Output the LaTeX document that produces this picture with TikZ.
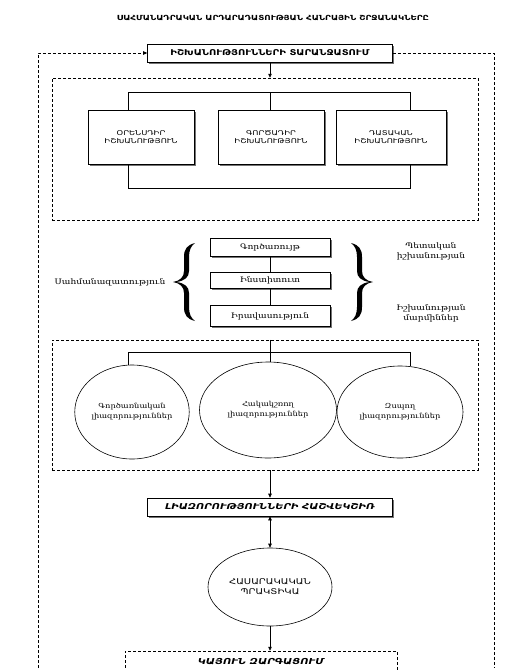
\documentclass[tikz,border=0pt]{standalone}
\usepackage{fontspec}
\setmainfont{DejaVu Sans}
\newfontfamily\wcaps[FakeStretch=1.25]{DejaVu Sans}
\newfontfamily\wser[FakeStretch=1.2]{DejaVu Serif}
\usetikzlibrary{arrows.meta,shapes.geometric,shadows}
\newcommand\bracefill{%
  (22,-39) .. controls (14,-37) and (11,-33) .. (11,-25) -- (11,-11)
  .. controls (11,-5) and (7,-1) .. (0,0)
  .. controls (7,1) and (11,5) .. (11,11) -- (11,25)
  .. controls (11,33) and (14,37) .. (22,39)
  .. controls (18,36) and (16,32) .. (16,25) -- (16,11)
  .. controls (16,5) and (12,1) .. (3,0)
  .. controls (12,-1) and (16,-5) .. (16,-11) -- (16,-25)
  .. controls (16,-32) and (18,-36) .. (22,-39) -- cycle}
\begin{document}
\begin{tikzpicture}[x=1pt,y=-1pt,
  boxs/.style={draw, fill=white, line width=0.6pt, drop shadow={shadow xshift=1.8pt,shadow yshift=-1.8pt,fill=black!55,opacity=1}, inner sep=1pt, align=center},
  dbox/.style={draw, dash pattern=on 3pt off 2pt, line width=0.5pt, inner sep=0pt},
  ell/.style={draw, ellipse, line width=0.6pt, align=center, inner sep=0pt},
  arr/.style={-{Triangle[length=4pt,width=3.5pt]}, line width=0.6pt},
  darr/.style={{Triangle[length=4pt,width=3.5pt]}-{Triangle[length=4pt,width=3.5pt]}, line width=0.6pt},
  ln/.style={line width=0.6pt},
  dln/.style={dash pattern=on 3pt off 2pt, line width=0.5pt},
  capf/.style={font=\wcaps\fontsize{6.7}{8.5}\selectfont},
  capb/.style={font=\wcaps\bfseries\fontsize{7}{8}\selectfont},
  capi/.style={font=\wcaps\bfseries\itshape\fontsize{8.1}{9}\selectfont},
  serf/.style={font=\wser\fontsize{7.6}{10}\selectfont, align=center},
  sere/.style={font=\wser\fontsize{6.9}{10}\selectfont, align=center}]
\useasboundingbox (0,0) rectangle (514,670);
% title
\node[capb] (title) at (273,18) {ՍԱՀՄԱՆԱԴՐԱԿԱՆ ԱՐԴԱՐԱԴԱՏՈՒԹՅԱՆ ՀԱՆՐԱՅԻՆ ՇՐՋԱՆԱԿՆԵՐԸ};
% top box
\node[boxs, capb, font=\wcaps\bfseries\fontsize{8}{9}\selectfont, minimum width=245pt, minimum height=18pt] (top) at (270,53) {ԻՇԽԱՆՈՒԹՅՈՒՆՆԵՐԻ ՏԱՐԱՆՋԱՏՈՒՄ};
% dashed rect 1
\node[dbox, minimum width=426pt, minimum height=142pt] (r1) at (265,149) {};
\draw[arr] (top.south) -- (top.south |- r1.north);
% three power boxes
\node[boxs, capf, minimum width=106pt, minimum height=54pt] (b1) at (141,137) {ՕՐԵՆՍԴԻՐ\\ԻՇԽԱՆՈՒԹՅՈՒՆ};
\node[boxs, capf, minimum width=106pt, minimum height=54pt] (b2) at (271,137) {ԳՈՐԾԱԴԻՐ\\ԻՇԽԱՆՈՒԹՅՈՒՆ};
\node[boxs, capf, minimum width=110pt, minimum height=54pt] (b3) at (391,137) {ԴԱՏԱԿԱՆ\\ԻՇԽԱՆՈՒԹՅՈՒՆ};
\coordinate (tl) at (128,92);
\coordinate (tm) at (270,92);
\coordinate (tr) at (410,92);
\draw[ln] (tl |- b1.north) -- (tl) -- (tr) -- (tr |- b3.north);
\draw[ln] (tm) -- (tm |- b2.north);
\coordinate (bl) at (128,188);
\coordinate (br) at (410,188);
\draw[ln] (bl |- b1.south) -- (bl) -- (br) -- (br |- b3.south);
% middle boxes
\node[boxs, serf, minimum width=120pt, minimum height=18pt] (mA) at (270,247) {Գործառույթ};
\node[boxs, serf, minimum width=120pt, minimum height=16pt] (mB) at (270,280) {Ինստիտուտ};
\node[boxs, serf, minimum width=120pt, minimum height=21pt] (mC) at (270,316) {Իրավասություն};
\draw[ln] (mA.south) -- (mB.north);
\draw[ln] (mB.south) -- (mC.north);
% braces
\fill[black, shift={(173,282)}] \bracefill;
\fill[black, shift={(373,282)}, xscale=-1] \bracefill;
\node[serf] (ltx) at (110,282) {Սահմանազատություն};
\node[serf] (rt1) at (431,251) {Պետական\\իշխանության};
\node[serf] (rt2) at (431,313) {Իշխանության\\մարմիններ};
% dashed rect 2
\node[dbox, minimum width=426pt, minimum height=130pt] (r2) at (265,405) {};
\node[ell, sere, minimum width=105pt, minimum height=94pt] (e1) at (132,412) {Գործառնական\\լիազորություններ};
\node[ell, sere, minimum width=137pt, minimum height=96pt] (e2) at (268,410) {Հակակշռող\\լիազորություններ};
\node[ell, sere, minimum width=126pt, minimum height=92pt] (e3) at (400,412) {Զսպող\\լիազորություններ};
\coordinate (el) at (128,352);
\coordinate (em) at (270,352);
\coordinate (er) at (410,352);
\draw[ln] (em |- r2.north) -- (em);
\draw[ln] (el |- e1.north) -- (el) -- (er) -- (er |- e3.north);
\draw[ln] (em) -- (em |- e2.north);
% balance box
\node[boxs, capi, minimum width=245pt, minimum height=18pt] (bal) at (270,507) {ԼԻԱԶՈՐՈՒԹՅՈՒՆՆԵՐԻ ՀԱՇՎԵԿՇԻՌ};
\draw[arr] (r2.south -| bal.north) -- (bal.north);
\node[ell, capf, font=\wcaps\fontsize{8}{10}\selectfont, minimum width=124pt, minimum height=78pt] (e4) at (270,587) {ՀԱՍԱՐԱԿԱԿԱՆ\\ՊՐԱԿՏԻԿԱ};
\draw[darr] (bal.south) -- (e4.north);
% bottom box
\node[dbox, capi, font=\wcaps\bfseries\itshape\fontsize{8.2}{9}\selectfont, minimum width=272pt, minimum height=22pt] (sd) at (261,662) {ԿԱՅՈՒՆ ԶԱՐԳԱՑՈՒՄ};
\draw[arr] (e4.south) -- (e4.south |- sd.north);
% outer loop
\coordinate (ol) at (38,668);
\coordinate (or) at (494,668);
\draw[dln, arr] (ol) -- (ol |- top.west) -- (top.west);
\draw[dln] (top.east) -- (or |- top.east) -- (or);
\end{tikzpicture}
\end{document}
